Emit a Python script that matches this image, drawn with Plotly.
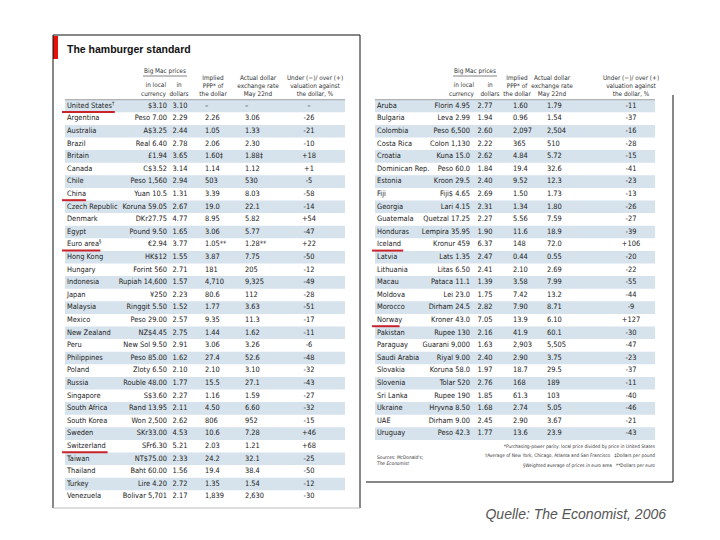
import plotly.graph_objects as go

# ---------------- data: left panel ----------------
left_country = ["United States", "Argentina", "Australia", "Brazil", "Britain", "Canada", "Chile",
                "China", "Czech Republic", "Denmark", "Egypt", "Euro area", "Hong Kong", "Hungary",
                "Indonesia", "Japan", "Malaysia", "Mexico", "New Zealand", "Peru", "Philippines",
                "Poland", "Russia", "Singapore", "South Africa", "South Korea", "Sweden",
                "Switzerland", "Taiwan", "Thailand", "Turkey", "Venezuela"]
left_local = ["$3.10", "Peso 7.00", "A$3.25", "Real 6.40", "£1.94", "C$3.52", "Peso 1,560",
              "Yuan 10.5", "Koruna 59.05", "DKr27.75", "Pound 9.50", "€2.94", "HK$12", "Forint 560",
              "Rupiah 14,600", "¥250", "Ringgit 5.50", "Peso 29.00", "NZ$4.45", "New Sol 9.50",
              "Peso 85.00", "Zloty 6.50", "Rouble 48.00", "S$3.60", "Rand 13.95", "Won 2,500",
              "SKr33.00", "SFr6.30", "NT$75.00", "Baht 60.00", "Lire 4.20", "Bolivar 5,701"]
left_dollars = [3.10, 2.29, 2.44, 2.78, 3.65, 3.14, 2.94, 1.31, 2.67, 4.77, 1.65, 3.77, 1.55, 2.71,
                1.57, 2.23, 1.52, 2.57, 2.75, 2.91, 1.62, 2.10, 1.77, 2.27, 2.11, 2.62, 4.53,
                5.21, 2.33, 1.56, 2.72, 2.17]
left_ppp = [None, 2.26, 1.05, 2.06, 1.60, 1.14, 503, 3.39, 19.0, 8.95, 3.06, 1.05, 3.87, 181,
            4710, 80.6, 1.77, 9.35, 1.44, 3.06, 27.4, 2.10, 15.5, 1.16, 4.50, 806, 10.6,
            2.03, 24.2, 19.4, 1.35, 1839]
left_rate = [None, 3.06, 1.33, 2.30, 1.88, 1.12, 530, 8.03, 22.1, 5.82, 5.77, 1.28, 7.75, 205,
             9325, 112, 3.63, 11.3, 1.62, 3.26, 52.6, 3.10, 27.1, 1.59, 6.60, 952, 7.28,
             1.21, 32.1, 38.4, 1.54, 2630]
left_valuation = [None, -26, -21, -10, 18, 1, -5, -58, -14, 54, -47, 22, -50, -12,
                  -49, -28, -51, -17, -11, -6, -48, -32, -43, -27, -32, -15, 46,
                  68, -25, -50, -12, -30]

# ---------------- data: right panel ----------------
right_country = ["Aruba", "Bulgaria", "Colombia", "Costa Rica", "Croatia", "Dominican Rep.",
                 "Estonia", "Fiji", "Georgia", "Guatemala", "Honduras", "Iceland", "Latvia",
                 "Lithuania", "Macau", "Moldova", "Morocco", "Norway", "Pakistan", "Paraguay",
                 "Saudi Arabia", "Slovakia", "Slovenia", "Sri Lanka", "Ukraine", "UAE", "Uruguay"]
right_local = ["Florin 4.95", "Leva 2.99", "Peso 6,500", "Colon 1,130", "Kuna 15.0", "Peso 60.0",
               "Kroon 29.5", "Fiji$ 4.65", "Lari 4.15", "Quetzal 17.25", "Lempira 35.95",
               "Kronur 459", "Lats 1.35", "Litas 6.50", "Pataca 11.1", "Lei 23.0", "Dirham 24.5",
               "Kroner 43.0", "Rupee 130", "Guarani 9,000", "Riyal 9.00", "Koruna 58.0",
               "Tolar 520", "Rupee 190", "Hryvna 8.50", "Dirham 9.00", "Peso 42.3"]
right_dollars = [2.77, 1.94, 2.60, 2.22, 2.62, 1.84, 2.40, 2.69, 2.31, 2.27, 1.90, 6.37, 2.47,
                 2.41, 1.39, 1.75, 2.82, 7.05, 2.16, 1.63, 2.40, 1.97, 2.76, 1.85, 1.68, 2.45, 1.77]
right_ppp = [1.60, 0.96, 2097, 365, 4.84, 19.4, 9.52, 1.50, 1.34, 5.56, 11.6, 148, 0.44, 2.10,
             3.58, 7.42, 7.90, 13.9, 41.9, 2903, 2.90, 18.7, 168, 61.3, 2.74, 2.90, 13.6]
right_rate = [1.79, 1.54, 2504, 510, 5.72, 32.6, 12.3, 1.73, 1.80, 7.59, 18.9, 72.0, 0.55, 2.69,
              7.99, 13.2, 8.71, 6.10, 60.1, 5505, 3.75, 29.5, 189, 103, 5.05, 3.67, 23.9]
right_valuation = [-11, -37, -16, -28, -15, -41, -23, -13, -26, -27, -39, 106, -20, -22, -55, -44,
                   -9, 127, -30, -47, -23, -37, -11, -40, -46, -21, -43]

# footnote markers
country_marks = {"United States": "†", "Euro area": "§"}
value_marks = {"Britain": "‡", "Euro area": "**"}
highlight = ["United States", "China", "Euro area", "Switzerland", "Iceland", "Norway"]

title = "The hamburger standard"
hdr_bigmac = "Big Mac prices"
hdr_local = "in local<br>currency"
hdr_dollars = "in<br>dollars"
hdr_ppp = "Implied<br>PPP* of<br>the dollar"
hdr_rate = "Actual dollar<br>exchange rate<br>May 22nd"
hdr_val = "Under (−)/ over (+)<br>valuation against<br>the dollar, %"
footnotes = ["*Purchasing-power parity: local price divided by price in United States",
             "†Average of New York, Chicago, Atlanta and San Francisco   ‡Dollars per pound",
             "§Weighted average of prices in euro area   **Dollars per euro"]
sources = "Sources: McDonald's;<br><i>The Economist</i>"
credit = "Quelle: The Economist, 2006"

# ---------------- styling / layout ----------------
FONT = "DejaVu Sans Condensed, Liberation Sans Narrow, Arial Narrow, sans-serif"
TXT = "#222222"
SHADE = "#d6e2ec"
ROW0, DY = 106, 12.6
W = 280
PAGE_OFF = 8

# column offsets from the left edge of each panel's shading
LEFT_COLS = dict(name=2, local=102, dollars=115, ppp=140, rate=180, val=244,
                 h_local=101, h_dollars=114, h_ppp=148, h_rate=193, h_val=250)
RIGHT_COLS = dict(name=2, local=95, dollars=110, ppp=138, rate=172, val=256,
                  h_local=99, h_dollars=115, h_ppp=142, h_rate=177, h_val=256)


def fmt3(v):
    if v is None:
        return "–"
    if v >= 1000:
        return f"{v:,.0f}"
    if v >= 100:
        return f"{v:.0f}"
    if v >= 10:
        return f"{v:.1f}"
    return f"{v:.2f}"


fig = go.Figure()
shapes = []


def text_trace(xs, ys, texts, pos, size=7.4, color=TXT, family=FONT):
    fig.add_trace(go.Scatter(x=xs, y=ys, text=texts, mode="text", textposition=pos,
                             textfont=dict(family=family, size=size, color=color),
                             hoverinfo="skip", showlegend=False))


def line(x0, y0, x1, y1, color="#111", width=1):
    shapes.append(dict(type="line", xref="x", yref="y", x0=x0, y0=y0, x1=x1, y1=y1,
                       line=dict(color=color, width=width)))


def panel(x0, cols, country, local, dollars, ppp, rate, val):
    n = len(country)
    ys = [ROW0 + i * DY for i in range(n)]
    for i, y in enumerate(ys):
        if i % 2 == 0:
            shapes.append(dict(type="rect", xref="x", yref="y", x0=x0, x1=x0 + W,
                               y0=y - DY / 2, y1=y + DY / 2, fillcolor=SHADE,
                               line=dict(width=0), layer="below"))
    line(x0, ROW0 - DY / 2, x0 + W, ROW0 - DY / 2, "#8a8a8a", 0.8)
    names = [c + (f"<sup>{country_marks[c]}</sup>" if c in country_marks else "") for c in country]
    text_trace([x0 + cols["name"]] * n, ys, names, "middle right")
    text_trace([x0 + cols["local"]] * n, ys, local, "middle left")
    text_trace([x0 + cols["dollars"]] * n, ys, [f"{d:.2f}" for d in dollars], "middle center")
    mk = [value_marks.get(c, "") for c in country]
    text_trace([x0 + cols["ppp"]] * n, ys, [fmt3(p) + m for p, m in zip(ppp, mk)], "middle right")
    text_trace([x0 + cols["rate"]] * n, ys, [fmt3(r) + m for r, m in zip(rate, mk)], "middle right")
    text_trace([x0 + cols["val"]] * n, ys, ["–" if v is None else f"{v:+d}" for v in val],
               "middle center")
    # headers
    hs = 6.4
    hc = "#333333"
    text_trace([x0 + 100], [71], [hdr_bigmac], "middle center", hs, hc)
    line(x0 + 78, 76, x0 + 122, 76, "#666", 0.8)
    text_trace([x0 + cols["h_local"]], [90], [hdr_local], "middle left", hs, hc)
    text_trace([x0 + cols["h_dollars"]], [90], [hdr_dollars], "middle center", hs, hc)
    text_trace([x0 + cols["h_ppp"]], [86.5], [hdr_ppp], "middle center", hs, hc)
    text_trace([x0 + cols["h_rate"]], [86.5], [hdr_rate], "middle center", hs, hc)
    text_trace([x0 + cols["h_val"]], [86.5], [hdr_val], "middle center", hs, hc)
    # red underlines
    for i, c in enumerate(country):
        if c in highlight:
            y = ys[i] + 6
            line(x0 - 3, y, x0 + 3 + 3.6 * len(c), y, "#c9242b", 2)
    return ys


XL, XR = 65, 375
ysl = panel(XL, LEFT_COLS, left_country, left_local, left_dollars, left_ppp, left_rate,
            left_valuation)
ysr = panel(XR, RIGHT_COLS, right_country, right_local, right_dollars, right_ppp, right_rate,
            right_valuation)

# title + red tab
text_trace([67], [50], [f"<b>{title}</b>"], "middle right", 10.5, "#111",
           "Liberation Sans, Arial, sans-serif")
shapes.append(dict(type="rect", xref="x", yref="y", x0=53, x1=58, y0=36, y1=59,
                   fillcolor="#e3120b", line=dict(width=0)))

# left frame
line(53, 35, 360, 35)
line(53, 35, 53, 508)
line(360, 35, 360, 508)
line(53, 508, 360, 508, "#bbbbbb")
# right frame
line(673, 95, 673, 482)
line(366, 482, 673, 482)

# footnotes
fy0 = ysr[-1] + 13
text_trace([XR + W] * 3, [fy0 + i * 9.5 for i in range(3)], footnotes, "middle left", 4.8, "#333")
text_trace([XR + 2], [fy0 + 14], [sources], "middle right", 4.8, "#333")

# credit
text_trace([666], [515], [f"<i>{credit}</i>"], "middle left", 14, "#555",
           "Liberation Sans, Arial, sans-serif")

fig.update_layout(width=720, height=540, margin=dict(l=0, r=0, t=0, b=0),
                  paper_bgcolor="white", plot_bgcolor="white", shapes=shapes,
                  xaxis=dict(range=[PAGE_OFF, 720 + PAGE_OFF], visible=False, fixedrange=True),
                  yaxis=dict(range=[540 + PAGE_OFF, PAGE_OFF], visible=False, fixedrange=True),
                  showlegend=False)
fig.write_html("out.html")
